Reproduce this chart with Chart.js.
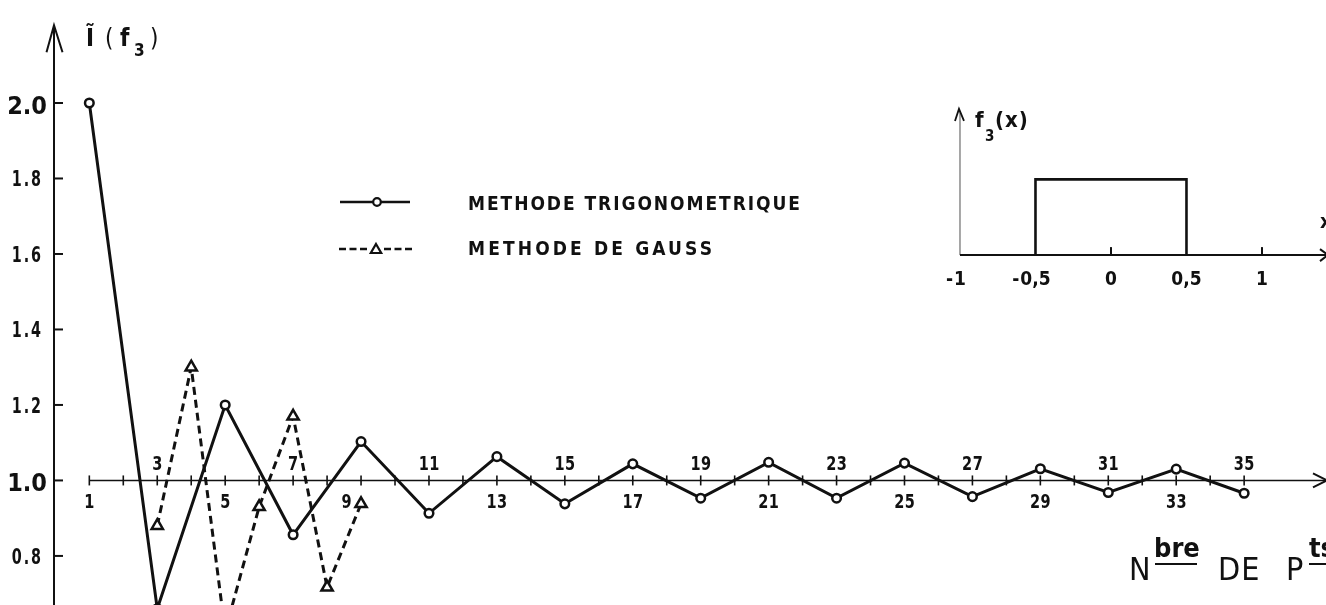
<!DOCTYPE html>
<html>
<head>
<meta charset="utf-8">
<script src="https://cdn.jsdelivr.net/npm/chart.js@4.4.1/dist/chart.umd.min.js"></script>
<style>
  html, body { margin: 0; padding: 0; background: #fff; overflow: hidden; }
  canvas { display: block; }
</style>
</head>
<body>
<canvas id="c" width="1326" height="605"></canvas>
<script>
// Integral estimate Ĩ(f3) against the number of quadrature points
const trigPoints = [1, 3, 5, 7, 9, 11, 13, 15, 17, 19, 21, 23, 25, 27, 29, 31, 33, 35];
const trigValues = [2.0, 0.66, 1.2, 0.856, 1.103, 0.913, 1.063, 0.938, 1.044, 0.953, 1.048, 0.953, 1.046, 0.957, 1.031, 0.968, 1.030, 0.966];
const gaussPoints = [3, 4, 5, 6, 7, 8, 9];
const gaussValues = [0.88, 1.30, 0.60, 0.93, 1.17, 0.717, 0.938];
const seriesNames = ['METHODE TRIGONOMETRIQUE', 'METHODE DE GAUSS'];

const yTickValues = [0.8, 1.0, 1.2, 1.4, 1.6, 1.8, 2.0];
const yTickLabels = ['0.8', '1.0', '1.2', '1.4', '1.6', '1.8', '2.0'];
const yMajorTicks = [1.0, 2.0];
const xTickValues = [1, 2, 3, 4, 5, 6, 7, 8, 9, 10, 11, 12, 13, 14, 15, 16, 17, 18, 19, 20, 21, 22, 23, 24, 25, 26, 27, 28, 29, 30, 31, 32, 33, 34, 35];
const xLabelsBelow = [1, 5, 9, 13, 17, 21, 25, 29, 33];
const xLabelsAbove = [3, 7, 11, 15, 19, 23, 27, 31, 35];

// Inset: the test function f3(x), a unit box on [-0.5, 0.5]
const insetX = [-0.5, -0.5, 0.5, 0.5];
const insetY = [0, 1, 1, 0];
const insetTickValues = [-1, -0.5, 0, 0.5, 1];
const insetTickLabels = ['-1', '-0,5', '0', '0,5', '1'];
const insetTickMarks = [0, 1];

const INK = '#111';
const COND = '"DejaVu Sans Condensed", "DejaVu Sans", sans-serif';

function seg(ctx, x1, y1, x2, y2) {
  ctx.beginPath(); ctx.moveTo(x1, y1); ctx.lineTo(x2, y2); ctx.stroke();
}
function poly(ctx, pts) {
  ctx.beginPath(); ctx.moveTo(pts[0][0], pts[0][1]);
  for (let i = 1; i < pts.length; i++) ctx.lineTo(pts[i][0], pts[i][1]);
  ctx.stroke();
}
// text with optional letter spacing and horizontal condensing
function txt(ctx, s, x, y, font, align, spacing, hs) {
  hs = hs || 1;
  ctx.save();
  ctx.font = font; ctx.textAlign = align || 'left'; ctx.textBaseline = 'alphabetic';
  ctx.letterSpacing = (spacing || 0) + 'px';
  ctx.translate(x, y); ctx.scale(hs, 1);
  let dx = 0;
  if (spacing && align === 'center') dx = spacing / 2;
  if (spacing && align === 'right') dx = spacing;
  ctx.fillText(s, dx, 0);
  ctx.restore();
}
function fitText(ctx, s, x, y, font, width) {
  ctx.font = font; ctx.letterSpacing = '0px';
  const w = ctx.measureText(s).width;
  const sp = (width - w) / (s.length - 1);
  txt(ctx, s, x, y, font, 'left', sp);
}
function circleMark(ctx, x, y, r) {
  ctx.beginPath(); ctx.arc(x, y, r, 0, Math.PI * 2);
  ctx.fillStyle = '#fff'; ctx.fill(); ctx.stroke(); ctx.fillStyle = INK;
}
function triangleMark(ctx, x, y, r) {
  const h = r * Math.sqrt(3) / 2;
  ctx.beginPath();
  ctx.moveTo(x, y - r); ctx.lineTo(x + h, y + r / 2); ctx.lineTo(x - h, y + r / 2); ctx.closePath();
  ctx.fillStyle = '#fff'; ctx.fill(); ctx.stroke(); ctx.fillStyle = INK;
}

const axesPlugin = {
  id: 'handAxes',
  beforeDatasetsDraw(chart) {
    const ctx = chart.ctx;
    const sx = chart.scales.x, sy = chart.scales.y;
    const xi = chart.scales.xi, yi = chart.scales.yi;
    ctx.save();
    ctx.strokeStyle = INK; ctx.fillStyle = INK; ctx.lineCap = 'butt'; ctx.lineJoin = 'miter';

    // vertical axis with arrow
    const ax = chart.chartArea.left;
    const yTop = sy.getPixelForValue(2.206);
    ctx.lineWidth = 2;
    seg(ctx, ax, yTop, ax, chart.chartArea.bottom + 2);
    poly(ctx, [[ax - 7.5, yTop + 27], [ax, yTop], [ax + 8.5, yTop + 27]]);

    // y ticks and labels
    yTickValues.forEach((v, i) => {
      const py = sy.getPixelForValue(v);
      ctx.lineWidth = 2;
      seg(ctx, ax, py, ax + 9, py);
      if (yMajorTicks.includes(v)) {
        txt(ctx, yTickLabels[i], ax - 7, py + 11, 'bold 25px ' + COND, 'right', 0);
      } else {
        txt(ctx, yTickLabels[i], ax - 13, py + 8, 'bold 21px ' + COND, 'right', 2.5, 0.76);
      }
    });

    // horizontal axis at 1.0 with arrow
    const y0 = sy.getPixelForValue(1.0);
    const xStart = sx.getPixelForValue(xTickValues[0]);
    const xEnd = chart.chartArea.right;
    ctx.lineWidth = 1.5;
    seg(ctx, xStart, y0, xEnd, y0);
    ctx.lineWidth = 2;
    poly(ctx, [[xEnd - 13, y0 - 7], [xEnd + 1, y0], [xEnd - 13, y0 + 7]]);
    xTickValues.forEach(v => {
      const px = sx.getPixelForValue(v);
      ctx.lineWidth = 1.6;
      seg(ctx, px, y0 - 5, px, y0 + 5);
    });

    // vertical axis title  Ĩ (f3)
    txt(ctx, 'Ĩ', 86, 46, 'bold 24px ' + COND, 'left', 0);
    txt(ctx, '(', 105, 46, '24px ' + COND, 'left', 0);
    txt(ctx, 'f', 120, 46, 'bold 24px ' + COND, 'left', 0);
    txt(ctx, '3', 134, 56, 'bold 17px ' + COND, 'left', 0);
    txt(ctx, ')', 150, 46, '24px ' + COND, 'left', 0);

    // horizontal axis title  N bre DE P ts
    txt(ctx, 'N', 1129, 580, '32px ' + COND, 'left', 0);
    txt(ctx, 'bre', 1154, 557, 'bold 27px ' + COND, 'left', 0);
    ctx.lineWidth = 2;
    seg(ctx, 1155, 564, 1197, 564);
    txt(ctx, 'DE', 1218, 580, '32px ' + COND, 'left', 1);
    txt(ctx, 'P', 1286, 580, '32px ' + COND, 'left', 0);
    txt(ctx, 'ts', 1309, 557, 'bold 27px ' + COND, 'left', 0);
    seg(ctx, 1309, 564, 1330, 564);

    // legend
    const ds = chart.data.datasets;
    ctx.lineWidth = 2.5;
    ctx.setLineDash([]);
    seg(ctx, 340, 202, 410, 202);
    ctx.lineWidth = 2.2;
    circleMark(ctx, 377, 202, 3.8);
    ctx.lineWidth = 2.5;
    ctx.setLineDash([7, 3.5]);
    seg(ctx, 339, 249, 368, 249);
    seg(ctx, 384, 249, 414, 249);
    ctx.setLineDash([]);
    ctx.lineWidth = 2.2;
    triangleMark(ctx, 376, 250, 6);
    fitText(ctx, ds[0].label, 468, 210, 'bold 19px ' + COND, 332);
    fitText(ctx, ds[1].label, 468, 255, 'bold 19px ' + COND, 244);

    // inset axes
    const ix0 = xi.getPixelForValue(-1);
    const iy0 = yi.getPixelForValue(0);
    const iyTop = yi.getPixelForValue(1.93);
    ctx.strokeStyle = '#8a8a8a'; ctx.lineWidth = 1.5;
    seg(ctx, ix0, iy0, ix0, iyTop + 2);
    ctx.strokeStyle = INK; ctx.lineWidth = 1.8;
    poly(ctx, [[ix0 - 5, iyTop + 12], [ix0 - 1, iyTop], [ix0 + 4, iyTop + 12]]);
    ctx.lineWidth = 2;
    seg(ctx, ix0, iy0, chart.chartArea.right, iy0);
    poly(ctx, [[chart.chartArea.right - 6, iy0 - 6], [chart.chartArea.right + 2, iy0], [chart.chartArea.right - 6, iy0 + 6]]);
    insetTickMarks.forEach(v => {
      const px = xi.getPixelForValue(v);
      seg(ctx, px, iy0, px, iy0 - 8);
    });
    const lf = 'bold 19px ' + COND;
    insetTickValues.forEach((v, i) => {
      const px = xi.getPixelForValue(v);
      const s = insetTickLabels[i];
      if (s.charAt(0) === '-') {
        const body = s.slice(1);
        ctx.font = lf;
        const w = ctx.measureText(body).width;
        txt(ctx, body, px, 285, lf, 'center', 0);
        txt(ctx, '-', px - w / 2 - 1, 285, lf, 'right', 0);
      } else {
        txt(ctx, s, px, 285, lf, 'center', 0);
      }
    });
    // inset labels  f3(x)  and  x
    txt(ctx, 'f', 975, 127, 'bold 22px ' + COND, 'left', 0);
    txt(ctx, '3', 985, 141, 'bold 15px ' + COND, 'left', 0);
    txt(ctx, '(x)', 995, 127, 'bold 22px ' + COND, 'left', 1);
    txt(ctx, 'x', 1320, 228, 'bold 20px ' + COND, 'left', 0);

    ctx.restore();
  },
  afterDatasetsDraw(chart) {
    // x tick numbers, alternating above and below the axis;
    // a number that would sit on a plotted marker is slid to the left of it
    const ctx = chart.ctx;
    const sx = chart.scales.x, sy = chart.scales.y;
    const y0 = sy.getPixelForValue(1.0);
    const xf = 'bold 19px ' + COND;
    const hs = 0.85;
    const marks = [];
    chart.data.datasets.forEach((d, di) => {
      if (d.xAxisID !== 'x') return;
      chart.getDatasetMeta(di).data.forEach(el => marks.push({ x: el.x, y: el.y, r: (d.pointRadius || 3) + 2 }));
    });
    function place(v, base) {
      let cx = sx.getPixelForValue(v);
      ctx.font = xf;
      const w = ctx.measureText(String(v)).width * hs;
      const top = base - 14, bottom = base;
      marks.forEach(m => {
        if (m.y + m.r > top && m.y - m.r < bottom && Math.abs(m.x - cx) < w / 2 + m.r) {
          cx = m.x - m.r - w / 2 - 1;
        }
      });
      txt(ctx, String(v), cx, base, xf, 'center', 0.5, hs);
    }
    ctx.save();
    ctx.fillStyle = INK;
    xLabelsAbove.forEach(v => place(v, y0 - 10));
    xLabelsBelow.forEach(v => place(v, y0 + 28));
    ctx.restore();
  }
};

const chart = new Chart(document.getElementById('c'), {
  type: 'line',
  data: {
    datasets: [
      {
        label: seriesNames[0],
        data: trigPoints.map((n, i) => ({ x: n, y: trigValues[i] })),
        xAxisID: 'x', yAxisID: 'y',
        borderColor: INK, borderWidth: 3, tension: 0,
        pointStyle: 'circle', pointRadius: 4.3, pointBorderWidth: 2.5,
        pointBackgroundColor: '#fff', pointBorderColor: INK,
        order: 0
      },
      {
        label: seriesNames[1],
        data: gaussPoints.map((n, i) => ({ x: n, y: gaussValues[i] })),
        xAxisID: 'x', yAxisID: 'y',
        borderColor: INK, borderWidth: 3, borderDash: [8, 5], tension: 0,
        pointStyle: 'triangle', pointRadius: 6.5, pointBorderWidth: 2.5,
        pointBackgroundColor: '#fff', pointBorderColor: INK,
        order: 1
      },
      {
        label: 'f3(x)',
        data: insetX.map((v, i) => ({ x: v, y: insetY[i] })),
        xAxisID: 'xi', yAxisID: 'yi',
        borderColor: INK, borderWidth: 2.6, tension: 0, pointRadius: 0,
        borderJoinStyle: 'miter',
        order: 2
      }
    ]
  },
  options: {
    responsive: false,
    animation: false,
    devicePixelRatio: 1,
    events: [],
    layout: { autoPadding: false, padding: { left: 54, top: 27.5, right: 0, bottom: 0 } },
    plugins: { legend: { display: false }, tooltip: { enabled: false } },
    scales: {
      x: { type: 'linear', axis: 'x', display: false, min: -0.04, max: 37.41 },
      y: { type: 'linear', axis: 'y', display: false, min: 0.67, max: 2.2 },
      xi: { type: 'linear', axis: 'x', display: false, min: -7.0, max: 1.424 },
      yi: { type: 'linear', axis: 'y', display: false, min: -4.62, max: 3.005 }
    }
  },
  plugins: [axesPlugin]
});
</script>
</body>
</html>
